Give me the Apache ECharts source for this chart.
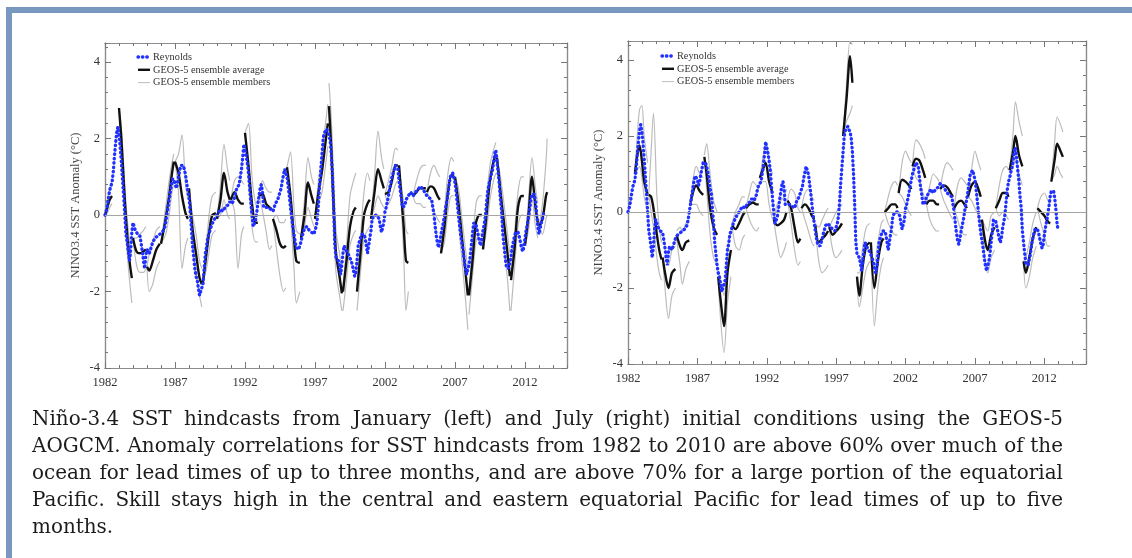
<!DOCTYPE html>
<html>
<head>
<meta charset="utf-8">
<script src="https://cdn.jsdelivr.net/npm/echarts@6/dist/echarts.min.js"></script>
<style>
html,body{margin:0;padding:0;background:#fff;}
#c{width:1132px;height:558px;}
</style>
</head>
<body>
<div id="c"></div>
<script>
// ---------------- DATA ----------------
const yearMin = 1982, yearMax = 2015;
const yMin = -4, yMax = 4.5;
const yAxisName = 'NINO3.4 SST Anomaly (°C)';
const legendNames = ['Reynolds', 'GEOS-5 ensemble average', 'GEOS-5 ensemble members'];

// Reynolds observed Niño-3.4 anomaly, monthly from Jan 1982
const reynoldsStart = 1982;
const reynolds = [
/*1982*/ 0.0,0.1,0.25,0.45,0.65,0.7,0.85,1.1,1.5,1.85,2.15,2.3,
/*1983*/ 2.1,1.8,1.4,0.95,0.5,0.0,-0.5,-0.7,-0.95,-1.2,-0.9,-0.45,
/*1984*/ -0.2,-0.3,-0.4,-0.45,-0.5,-0.5,-0.55,-0.6,-0.95,-1.2,-1.4,-1.05,
/*1985*/ -0.9,-0.95,-1.0,-0.9,-0.8,-0.7,-0.65,-0.6,-0.6,-0.55,-0.55,-0.5,
/*1986*/ -0.5,-0.45,-0.4,-0.35,-0.2,0.0,0.2,0.4,0.6,0.8,0.95,1.0,
/*1987*/ 0.85,0.7,0.8,1.0,1.15,1.3,1.35,1.3,1.2,1.05,0.85,0.6,
/*1988*/ 0.5,0.1,-0.3,-0.8,-1.1,-1.4,-1.6,-1.7,-1.9,-2.1,-2.0,-1.9,
/*1989*/ -1.8,-1.4,-1.0,-0.85,-0.6,-0.5,-0.4,-0.3,-0.25,-0.15,-0.1,-0.05,
/*1990*/ 0.0,0.05,0.1,0.15,0.15,0.1,0.15,0.2,0.2,0.25,0.3,0.35,
/*1991*/ 0.3,0.3,0.35,0.45,0.6,0.7,0.75,0.8,1.0,1.2,1.5,1.85,
/*1992*/ 1.8,1.55,1.35,1.1,0.7,0.35,0.0,-0.3,-0.35,-0.15,0.05,0.3,
/*1993*/ 0.5,0.7,0.8,0.6,0.2,0.25,0.2,0.2,0.2,0.2,0.15,0.1,
/*1994*/ 0.1,0.2,0.3,0.35,0.4,0.5,0.5,0.7,0.9,1.05,1.2,1.2,
/*1995*/ 1.0,0.75,0.5,0.2,-0.05,-0.3,-0.5,-0.7,-0.85,-0.9,-0.9,-0.8,
/*1996*/ -0.7,-0.55,-0.45,-0.35,-0.3,-0.3,-0.35,-0.4,-0.4,-0.45,-0.5,-0.5,
/*1997*/ -0.5,-0.3,-0.1,0.3,0.8,1.2,1.6,2.0,2.15,2.2,2.25,2.2,
/*1998*/ 2.1,1.95,1.6,1.0,0.2,-0.8,-1.1,-1.15,-1.2,-1.35,-1.55,-1.3,
/*1999*/ -1.0,-0.8,-0.85,-0.95,-1.0,-1.05,-1.1,-1.2,-1.3,-1.45,-1.6,-1.5,
/*2000*/ -1.2,-0.8,-0.7,-0.6,-0.5,-0.45,-0.5,-0.6,-0.8,-1.0,-0.95,-0.6,
/*2001*/ -0.4,-0.1,-0.05,0.0,0.0,0.0,0.0,-0.1,-0.3,-0.45,-0.45,-0.2,
/*2002*/ 0.1,0.2,0.35,0.5,0.7,0.85,1.0,1.1,1.2,1.3,1.35,1.2,
/*2003*/ 0.9,0.65,0.45,0.2,0.15,0.25,0.4,0.45,0.5,0.55,0.6,0.55,
/*2004*/ 0.5,0.55,0.6,0.6,0.65,0.7,0.75,0.75,0.7,0.65,0.6,0.55,
/*2005*/ 0.5,0.45,0.45,0.45,0.4,0.2,0.0,-0.3,-0.55,-0.75,-0.85,-0.7,
/*2006*/ -0.5,-0.35,-0.2,0.0,0.2,0.35,0.55,0.8,1.0,1.05,1.1,1.05,
/*2007*/ 0.85,0.6,0.3,0.0,-0.3,-0.55,-0.75,-0.95,-1.2,-1.4,-1.55,-1.5,
/*2008*/ -1.3,-1.1,-0.8,-0.5,-0.2,-0.15,-0.25,-0.4,-0.55,-0.7,-0.8,-0.65,
/*2009*/ -0.4,-0.25,-0.05,0.3,0.6,0.8,0.9,1.05,1.15,1.35,1.6,1.7,
/*2010*/ 1.4,1.1,0.8,0.4,0.1,-0.5,-0.8,-1.1,-1.35,-1.4,-1.4,-1.35,
/*2011*/ -1.1,-0.85,-0.7,-0.55,-0.45,-0.4,-0.45,-0.55,-0.7,-0.85,-0.95,-0.85,
/*2012*/ -0.6,-0.4,-0.25,-0.05,0.15,0.4,0.55,0.6,0.55,0.35,0.05,-0.3,
/*2013*/ -0.5,-0.35,-0.2,-0.1,0.05,0.1
];
const reynoldsMonthsLeft = 378;   // Jan 1982 .. Jun 2013
const reynoldsMonthsRight = 373;  // Jan 1982 .. Jan 2013

// ---- January-start hindcasts (left panel): [monthOffset, ensemble average] ----
const janStarts = [1982,1983,1984,1985,1986,1987,1988,1989,1990,1991,1992,1993,1994,1995,1996,1997,
                   1998,1999,2000,2001,2002,2003,2004,2005,2006,2007,2008,2009,2010,2011,2012,2013];
const janAvg = [
 [[0,0.0],[2,0.2],[4,0.4],[6,0.5]],
 [[0,2.8],[2,2.0],[4,0.9],[6,-0.1],[9,-1.2],[11,-1.65]],
 [[0,-0.6],[3,-0.95],[6,-1.0],[9,-0.95],[11,-0.9]],
 [[0,-1.35],[2,-1.45],[5,-1.2],[8,-0.9],[11,-0.75]],
 [[0,-0.75],[4,-0.1],[7,0.5],[9,1.0],[11,1.4]],
 [[0,1.4],[3,1.1],[6,0.5],[9,0.05],[11,-0.1]],
 [[0,0.7],[3,-0.35],[6,-1.0],[9,-1.64],[11,-1.81]],
 [[0,-1.75],[3,-1.0],[6,-0.3],[8,0.0],[11,0.05]],
 [[0,-0.1],[3,0.4],[6,1.1],[9,0.6],[11,0.4]],
 [[0,0.4],[3,0.6],[6,0.4],[9,0.3],[11,0.3]],
 [[0,2.15],[3,1.3],[6,0.3],[9,-0.2],[11,-0.2]],
 [[0,0.5],[3,0.55],[6,0.3],[9,0.2],[11,0.15]],
 [[0,-0.1],[3,-0.4],[6,-0.75],[9,-0.85],[11,-0.8]],
 [[0,1.25],[3,0.5],[6,-0.6],[8,-1.2],[11,-1.25]],
 [[0,-0.6],[3,0.0],[6,0.85],[9,0.5],[11,0.3]],
 [[0,-0.1],[3,0.6],[6,1.15],[9,1.9],[11,2.4]],
 [[0,2.85],[2,1.7],[4,0.2],[6,-1.0],[9,-1.6],[11,-2.05]],
 [[0,-2.0],[3,-1.2],[6,-0.3],[9,0.1],[11,0.2]],
 [[0,-2.0],[3,-1.0],[6,0.0],[9,0.3],[11,0.4]],
 [[0,-0.1],[3,0.6],[6,1.2],[9,0.9],[11,0.7]],
 [[0,0.55],[3,0.6],[6,0.9],[9,1.3],[11,1.3]],
 [[0,1.3],[2,0.5],[4,-0.3],[6,-1.2],[8,-1.25]],
 [[0,0.5],[3,0.6],[6,0.7],[9,0.7],[11,0.7]],
 [[0,0.6],[3,0.75],[6,0.7],[9,0.5],[11,0.4]],
 [[0,-1.0],[3,-0.3],[6,0.6],[9,1.05],[11,1.0]],
 [[0,1.0],[3,0.3],[6,-0.6],[9,-1.5],[11,-2.1]],
 [[0,-2.1],[3,-1.2],[6,-0.2],[9,0.0],[11,0.0]],
 [[0,-0.9],[3,0.0],[6,0.9],[9,1.4],[11,1.6]],
 [[0,1.5],[3,0.6],[6,-0.2],[9,-1.0],[11,-1.6]],
 [[0,-1.7],[3,-0.9],[6,0.2],[9,0.5],[11,0.5]],
 [[0,-0.8],[3,0.0],[6,1.0],[9,0.2],[11,-0.2]],
 [[0,-0.3],[3,-0.1],[6,0.5],[7,0.6]]
];
// highest / lowest ensemble member at the same months
const janHi = [
 [0.0,0.4,0.7,0.9],
 [2.8,2.3,1.3,0.3,-0.7,-1.1],
 [-0.6,-0.6,-0.5,-0.4,-0.3],
 [-1.35,-1.0,-0.7,-0.4,-0.3],
 [-0.75,0.2,0.9,1.3,1.6],
 [1.4,1.6,2.1,0.8,0.4],
 [0.7,0.0,-0.5,-1.2,-1.4],
 [-1.75,-0.7,0.2,0.5,0.6],
 [-0.1,0.8,1.85,1.2,0.9],
 [0.4,0.9,1.0,0.9,0.8],
 [2.15,2.4,1.0,0.3,0.2],
 [0.5,0.9,0.7,0.6,0.6],
 [-0.1,0.0,-0.2,-0.2,-0.1],
 [1.25,1.65,0.2,-0.4,-0.5],
 [-0.6,0.4,1.5,1.0,0.8],
 [-0.1,0.9,1.6,2.4,2.9],
 [3.45,2.5,1.0,-0.4,-1.0,-1.5],
 [-1.9,-0.8,0.5,0.9,1.1],
 [-1.9,-0.6,0.6,1.1,0.9],
 [-0.1,1.0,2.2,1.5,1.2],
 [0.55,0.9,1.3,1.75,1.7],
 [1.3,0.8,0.3,-0.4,-0.5],
 [0.5,0.9,1.2,1.3,1.3],
 [0.6,1.1,1.3,1.1,1.0],
 [-1.0,0.1,1.1,1.5,1.4],
 [1.0,0.7,-0.1,-0.9,-1.4],
 [-2.0,-0.8,0.3,0.5,0.5],
 [-0.9,0.4,1.3,1.7,1.9],
 [1.5,1.0,0.3,-0.5,-1.0],
 [-1.6,-0.5,0.6,1.0,1.0],
 [-0.8,0.4,1.5,0.7,0.3],
 [-0.3,0.3,1.4,2.0]
];
const janLo = [
 [0.0,0.05,0.2,0.3],
 [2.8,1.8,0.5,-0.6,-1.7,-2.3],
 [-0.6,-1.3,-1.5,-1.5,-1.4],
 [-1.35,-2.0,-1.8,-1.4,-1.2],
 [-0.75,-0.5,0.0,0.5,0.9],
 [1.4,0.6,-1.4,-0.8,-0.6],
 [0.7,-0.7,-1.5,-2.1,-2.4],
 [-1.75,-1.4,-0.8,-0.5,-0.4],
 [-0.1,0.0,0.4,0.0,-0.1],
 [0.4,0.1,-1.4,-0.5,-0.3],
 [2.15,0.9,-0.3,-0.7,-0.7],
 [0.5,0.1,-0.4,-0.9,-0.8],
 [-0.1,-0.9,-1.6,-2.0,-1.9],
 [1.25,0.0,-1.4,-2.3,-2.0],
 [-0.6,-0.3,0.2,-0.1,-0.3],
 [-0.1,0.3,0.6,1.3,1.8],
 [2.85,1.2,-0.4,-1.5,-2.1,-2.5],
 [-2.5,-1.7,-0.8,-0.5,-0.4],
 [-2.5,-1.5,-0.6,-0.4,-0.3],
 [-0.1,0.2,0.5,0.3,0.2],
 [0.55,0.3,0.5,0.8,0.9],
 [1.3,0.2,-1.0,-2.5,-2.0],
 [0.5,0.3,0.3,0.2,0.2],
 [0.6,0.4,0.1,-0.1,-0.2],
 [-1.0,-0.7,0.1,0.5,0.5],
 [1.0,-0.2,-1.2,-2.2,-3.0],
 [-2.6,-1.6,-0.7,-0.5,-0.5],
 [-0.9,-0.4,0.4,0.9,1.1],
 [1.5,0.2,-0.8,-1.7,-2.5],
 [-2.5,-1.4,-0.3,0.0,0.0],
 [-0.8,-0.4,0.4,-0.3,-0.6],
 [-0.3,-0.5,-0.1,0.0]
];

// ---- July-start hindcasts (right panel): [monthOffset from July, ensemble average] ----
const julStarts = [1982,1983,1984,1985,1986,1987,1988,1989,1990,1991,1992,1993,1994,1995,1996,1997,
                   1998,1999,2000,2001,2002,2003,2004,2005,2006,2007,2008,2009,2010,2011,2012];
const julAvg = [
 [[0,1.0],[2,1.5],[4,1.75],[6,1.35],[8,0.8],[11,0.45]],
 [[0,0.45],[2,0.4],[4,0.1],[7,-0.6],[9,-1.0],[11,-1.25]],
 [[0,-1.2],[2,-1.6],[5,-2.0],[8,-1.6],[11,-1.5]],
 [[0,-0.6],[3,-0.9],[5,-1.0],[8,-0.8],[11,-0.75]],
 [[0,0.25],[3,0.6],[5,0.7],[8,0.55],[11,0.45]],
 [[0,1.45],[2,1.0],[5,0.1],[8,-0.4],[11,-0.6]],
 [[0,-1.7],[2,-2.3],[5,-3.0],[8,-1.6],[11,-1.0]],
 [[0,-0.35],[3,-0.45],[6,-0.3],[9,-0.1],[11,0.0]],
 [[0,0.1],[3,0.2],[6,0.25],[9,0.2],[11,0.2]],
 [[0,0.9],[3,1.15],[5,1.3],[8,0.8],[11,0.5]],
 [[0,-0.2],[3,-0.35],[6,-0.3],[9,-0.2],[11,0.0]],
 [[0,0.3],[3,0.1],[6,-0.4],[9,-0.8],[11,-0.7]],
 [[0,0.1],[3,0.2],[6,0.1],[9,-0.1],[11,-0.2]],
 [[0,-0.35],[3,-0.8],[6,-0.7],[9,-0.6],[11,-0.5]],
 [[0,-0.4],[3,-0.6],[6,-0.5],[9,-0.4],[11,-0.3]],
 [[0,2.0],[3,3.0],[6,4.1],[8,3.4]],
 [[0,-1.7],[2,-2.2],[5,-1.4],[8,-0.9],[11,-0.8]],
 [[0,-0.8],[3,-2.0],[6,-1.3],[9,-0.8],[11,-0.7]],
 [[0,0.0],[3,0.1],[6,0.2],[9,0.2],[11,0.1]],
 [[0,0.5],[3,0.85],[6,0.8],[9,0.7],[11,0.6]],
 [[0,1.2],[3,1.4],[6,1.35],[9,1.1],[11,0.9]],
 [[0,0.2],[3,0.3],[6,0.3],[9,0.2],[11,0.2]],
 [[0,0.6],[3,0.7],[6,0.65],[9,0.5],[11,0.4]],
 [[0,0.1],[3,0.25],[6,0.3],[9,0.2],[11,0.1]],
 [[0,0.4],[3,0.7],[6,0.8],[9,0.6],[11,0.4]],
 [[0,-0.2],[3,-0.8],[5,-1.0],[8,-0.6],[11,-0.4]],
 [[0,0.1],[3,0.3],[6,0.5],[9,0.5],[11,0.4]],
 [[0,1.1],[3,1.6],[5,2.0],[8,1.5],[11,1.2]],
 [[0,-1.3],[2,-1.6],[5,-1.2],[8,-0.7],[11,-0.4]],
 [[0,0.1],[3,0.0],[6,-0.1],[9,-0.25],[11,-0.3]],
 [[0,0.8],[3,1.4],[5,1.8],[8,1.6],[10,1.45]]
];
const julHi = [
 [1.0,2.0,2.7,2.8,2.0,1.3],
 [0.5,1.6,2.6,0.4,-0.4,-0.8],
 [-1.2,-1.2,-1.4,-1.0,-0.9],
 [-0.5,-0.4,-0.5,-0.3,-0.2],
 [0.3,1.0,1.2,1.0,0.9],
 [1.5,1.8,1.0,0.3,0.0],
 [-1.6,-1.8,-2.2,-1.0,-0.5],
 [-0.3,0.0,0.2,0.4,0.4],
 [0.1,0.5,0.8,0.7,0.6],
 [0.9,1.5,1.85,1.3,1.0],
 [-0.2,0.2,0.3,0.4,0.6],
 [0.3,0.6,0.5,0.1,0.0],
 [0.1,0.5,0.6,0.4,0.3],
 [-0.3,-0.4,-0.2,0.0,0.1],
 [-0.4,-0.2,0.0,0.1,0.2],
 [2.0,3.4,4.5,4.4],
 [-1.6,-1.6,-0.9,-0.4,-0.3],
 [-0.8,-1.4,-0.8,-0.3,-0.2],
 [0.0,0.4,0.7,0.8,0.7],
 [0.5,1.3,1.6,1.4,1.3],
 [1.2,1.9,1.8,1.6,1.4],
 [0.2,0.7,1.0,0.9,0.8],
 [0.6,1.1,1.3,1.2,1.1],
 [0.1,0.7,0.9,0.8,0.7],
 [0.4,1.1,1.6,1.3,1.1],
 [-0.2,-0.4,-0.5,-0.1,0.0],
 [0.1,0.7,1.1,1.2,1.1],
 [1.1,2.1,2.9,2.4,2.0],
 [-1.3,-1.2,-0.8,-0.3,0.0],
 [0.1,0.4,0.5,0.3,0.2],
 [0.8,1.9,2.5,2.3,2.1]
];
const julLo = [
 [1.0,1.1,1.2,0.9,0.4,0.0],
 [0.45,0.0,-0.4,-1.2,-1.6,-1.8],
 [-1.2,-2.0,-2.8,-2.2,-2.0],
 [-0.7,-1.4,-1.9,-1.5,-1.3],
 [0.2,0.2,0.2,0.0,-0.1],
 [1.4,0.6,-0.6,-1.2,-1.4],
 [-1.8,-2.8,-3.7,-2.4,-1.7],
 [-0.4,-0.9,-1.0,-0.7,-0.6],
 [0.1,-0.2,-0.4,-0.5,-0.4],
 [0.9,0.8,0.8,0.2,-0.2],
 [-0.2,-0.8,-1.2,-1.0,-0.8],
 [0.3,-0.3,-1.0,-1.4,-1.3],
 [0.1,-0.2,-0.5,-0.8,-0.9],
 [-0.4,-1.3,-1.6,-1.5,-1.4],
 [-0.4,-1.0,-1.2,-1.1,-1.0],
 [2.0,2.4,2.6,2.8],
 [-1.8,-2.5,-2.0,-1.5,-1.3],
 [-0.8,-3.0,-2.0,-1.4,-1.2],
 [0.0,-0.3,-0.5,-0.6,-0.6],
 [0.5,0.4,0.2,0.0,-0.1],
 [1.2,0.9,0.8,0.5,0.3],
 [0.2,-0.2,-0.4,-0.5,-0.5],
 [0.6,0.3,0.1,-0.1,-0.2],
 [0.1,-0.2,-0.5,-0.6,-0.6],
 [0.4,0.3,0.1,-0.1,-0.3],
 [-0.2,-1.3,-1.6,-1.2,-1.0],
 [0.1,-0.1,0.0,-0.1,-0.2],
 [1.1,1.2,1.4,1.0,0.7],
 [-1.3,-2.0,-1.7,-1.2,-0.9],
 [0.1,-0.3,-0.6,-0.9,-0.9],
 [0.8,1.0,1.2,1.0,0.9]
];

const captionLines = [
 'Niño-3.4 SST hindcasts from January (left) and July (right) initial conditions using the GEOS-5',
 'AOGCM. Anomaly correlations for SST hindcasts from 1982 to 2010 are above 60% over much of the',
 'ocean for lead times of up to three months, and are above 70% for a large portion of the equatorial',
 'Pacific. Skill stays high in the central and eastern equatorial Pacific for lead times of up to five',
 'months.'
];

// ---------------- BUILD ----------------
function obsSeries(n) {
  const out = [];
  for (let i = 0; i < n; i++) out.push([reynoldsStart + i / 12, reynolds[i]]);
  return out;
}
function segSeries(starts, baseMonth, avg, hi, lo) {
  const a = [], h = [], l = [];
  starts.forEach((yr, i) => {
    let lastX = yr;
    avg[i].forEach((p, j) => {
      const x = yr + (baseMonth + p[0]) / 12;
      a.push([x, p[1]]); h.push([x, hi[i][j]]); l.push([x, lo[i][j]]);
      lastX = x;
    });
    a.push([lastX + 0.01, null]); h.push([lastX + 0.01, null]); l.push([lastX + 0.01, null]);
  });
  return {a, h, l};
}
const left = segSeries(janStarts, 0, janAvg, janHi, janLo);
const right = segSeries(julStarts, 6, julAvg, julHi, julLo);

const SERIF = 'Liberation Serif';
const AX = '#8c8c8c';
const grids = [
  {left: 105, top: 43, width: 462, height: 325},
  {left: 628, top: 41, width: 458, height: 323}
];

const xAxes = [], yAxes = [];
grids.forEach((g, gi) => {
  const mkX = (pos, interval, len, labels) => ({
    type: 'value', gridIndex: gi, position: pos, min: yearMin, max: yearMax, interval: interval,
    axisLine: {show: true, onZero: false, lineStyle: {color: AX, width: 1.2}},
    axisTick: {show: true, inside: true, length: len, lineStyle: {color: '#777', width: 1}},
    axisLabel: labels ? {show: true, margin: 8, fontFamily: SERIF, fontSize: 12.5, color: '#333',
                         showMaxLabel: false, formatter: v => String(v)} : {show: false},
    splitLine: {show: false}
  });
  xAxes.push(mkX('bottom', 5, 6, true), mkX('bottom', 1, 3, false), mkX('top', 5, 6, false), mkX('top', 1, 3, false));
  const mkY = (pos, interval, len, labels) => {
    const o = {
      type: 'value', gridIndex: gi, position: pos, min: yMin, max: yMax, interval: interval,
      axisLine: {show: true, onZero: false, lineStyle: {color: AX, width: 1.2}},
      axisTick: {show: true, inside: true, length: len, lineStyle: {color: '#777', width: 1}},
      axisLabel: labels ? {show: true, margin: 5, fontFamily: SERIF, fontSize: 12.5, color: '#333',
                           showMaxLabel: false} : {show: false},
      splitLine: {show: false}
    };
    if (labels) {
      o.name = yAxisName; o.nameLocation = 'middle'; o.nameRotate = 90; o.nameGap = 23;
      o.nameTextStyle = {fontFamily: SERIF, fontSize: 12.5, color: '#444'};
    }
    return o;
  };
  yAxes.push(mkY('left', 2, 6, true), mkY('left', 0.4, 3, false), mkY('right', 2, 6, false), mkY('right', 0.4, 3, false));
});

function panelSeries(gi, segs, obs) {
  const xi = gi * 4, yi = gi * 4;
  const base = {type: 'line', xAxisIndex: xi, yAxisIndex: yi, symbol: 'none', showSymbol: false,
                animation: false, silent: true, connectNulls: false};
  return [
    Object.assign({}, base, {name: legendNames[2], data: segs.h, smooth: 0.3, z: 2,
      lineStyle: {color: '#bcbcbc', width: 1.2},
      markLine: {silent: true, symbol: 'none', label: {show: false}, animation: false,
                 lineStyle: {color: '#a5a5a5', width: 1.2, type: 'solid'}, data: [{yAxis: 0}]}}),
    Object.assign({}, base, {name: legendNames[2], data: segs.l, smooth: 0.3, z: 2,
      lineStyle: {color: '#bcbcbc', width: 1.2}}),
    Object.assign({}, base, {name: legendNames[1], data: segs.a, smooth: 0.3, z: 3,
      lineStyle: {color: '#111', width: 2.4}}),
    Object.assign({}, base, {name: legendNames[0], data: obs, z: 4,
      lineStyle: {color: '#1f30ff', width: 3.3, type: [0.5, 3.9], cap: 'round'}})
  ];
}

const series = [].concat(
  panelSeries(0, left, obsSeries(reynoldsMonthsLeft)),
  panelSeries(1, right, obsSeries(reynoldsMonthsRight))
);

// ---------------- GRAPHIC (frame, legends, caption) ----------------
const graphic = [];
graphic.push({type: 'rect', silent: true, shape: {x: 6, y: 7, width: 1126, height: 6}, style: {fill: '#7898c0'}});
graphic.push({type: 'rect', silent: true, shape: {x: 6, y: 7, width: 6, height: 551}, style: {fill: '#7898c0'}});

function legendGraphic(x0, y0) {
  const styles = [
    {stroke: '#1f30ff', lineWidth: 3.3, lineDash: [0.5, 3.9], lineCap: 'round'},
    {stroke: '#111', lineWidth: 2.4},
    {stroke: '#bdbdbd', lineWidth: 1}
  ];
  legendNames.forEach((n, i) => {
    const y = y0 + i * 12.8;
    graphic.push({type: 'line', silent: true, z: 10, shape: {x1: x0, y1: y, x2: x0 + 12, y2: y}, style: styles[i]});
    graphic.push({type: 'text', silent: true, z: 10, x: x0 + 15, y: y,
      style: {text: n, fontFamily: SERIF, fontSize: 10.3, fill: '#333', verticalAlign: 'middle', align: 'left'}});
  });
}
legendGraphic(138, 57);
legendGraphic(662, 56);

(function caption() {
  const ctx = document.createElement('canvas').getContext('2d');
  const FAM = 'DejaVu Serif';
  const tw = (s, fs) => { ctx.font = fs + 'px "' + FAM + '"'; return ctx.measureText(s).width; };
  const X0 = 32, X1 = 1063, W = X1 - X0;
  const nat = Math.max(tw(captionLines[1], 20), tw(captionLines[2], 20));
  let fs = 20 * (W - 6) / nat;
  fs = Math.max(15, Math.min(22, fs));
  captionLines.forEach((line, li) => {
    const y = 420 + li * 27;
    const words = line.split(' ');
    const justify = li < captionLines.length - 1;
    const widths = words.map(w => tw(w, fs));
    const sum = widths.reduce((s, v) => s + v, 0);
    const gap = justify ? (W - sum) / (words.length - 1) : tw(' ', fs);
    let x = X0;
    words.forEach((w, wi) => {
      graphic.push({type: 'text', silent: true, x: x, y: y,
        style: {text: w, fontFamily: FAM, fontSize: fs, fill: '#1c1c1c', verticalAlign: 'middle', align: 'left'}});
      x += widths[wi] + gap;
    });
  });
})();

const chart = echarts.init(document.getElementById('c'), null, {renderer: 'canvas'});
chart.setOption({
  animation: false,
  backgroundColor: '#ffffff',
  grid: grids,
  xAxis: xAxes,
  yAxis: yAxes,
  series: series,
  graphic: graphic
});
</script>
</body>
</html>
